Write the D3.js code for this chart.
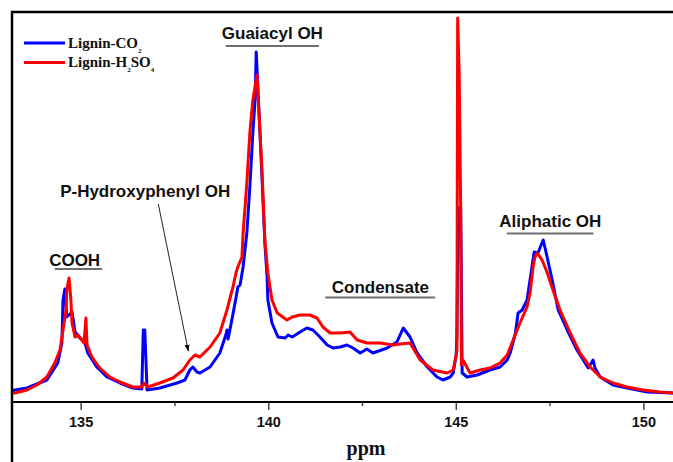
<!DOCTYPE html>
<html>
<head>
<meta charset="utf-8">
<script src="https://cdn.jsdelivr.net/npm/d3@7"></script>
<style>
  html, body { margin: 0; padding: 0; background: #fff; }
  svg { display: block; }
</style>
</head>
<body>
<svg id="chart" width="673" height="462"></svg>
<script>
// ---- Data (ppm, intensity in arbitrary units) ----
const seriesNames = ["Lignin-CO2", "Lignin-H2SO4"];
const xTicksMajor = [135, 140, 145, 150];
const xTicksMinor = [137.5, 142.5, 147.5];

const ligninCO2 = [
  [133.17, 4], [133.25, 5], [133.57, 7], [134.10, 15], [134.39, 32], [134.50, 52],
  [134.53, 95], [134.58, 106], [134.63, 78], [134.77, 83], [134.85, 63], [134.98, 57],
  [135.11, 53], [135.19, 42], [135.43, 28], [135.70, 18], [136.05, 12], [136.39, 7],
  [136.63, 6], [136.67, 65], [136.71, 65], [136.77, 5], [137.11, 7], [137.57, 12],
  [137.78, 15], [137.91, 25], [137.99, 28], [138.10, 23], [138.18, 22], [138.45, 28],
  [138.71, 42], [138.87, 60], [138.90, 65], [138.93, 56], [139.03, 75], [139.14, 97],
  [139.19, 108], [139.25, 110], [139.33, 128], [139.43, 162], [139.51, 208], [139.59, 262],
  [139.65, 295], [139.68, 343], [139.78, 262], [139.86, 195], [139.91, 152], [139.97, 118],
  [139.99, 95], [140.10, 72], [140.26, 58], [140.45, 57], [140.53, 60], [140.64, 58],
  [140.85, 63], [141.03, 67], [141.19, 65], [141.38, 58], [141.57, 50], [141.73, 47],
  [141.92, 48], [142.10, 50], [142.26, 47], [142.45, 42], [142.63, 46], [142.79, 42],
  [143.17, 47], [143.43, 53], [143.60, 67], [143.78, 58], [143.97, 42], [144.24, 28],
  [144.50, 18], [144.66, 15], [144.85, 18], [144.93, 22], [145.01, 40], [145.03, 60],
  [145.06, 187], [145.13, 187], [145.17, 22], [145.30, 18], [145.57, 20], [145.91, 25],
  [146.18, 28], [146.37, 35], [146.45, 42], [146.59, 62], [146.66, 82], [146.77, 85],
  [146.90, 95], [147.03, 128], [147.09, 143], [147.19, 142], [147.33, 155], [147.41, 142],
  [147.57, 115], [147.73, 85], [147.97, 65], [148.23, 45], [148.53, 27], [148.66, 35],
  [148.71, 27], [148.85, 18], [149.19, 10], [149.57, 7], [150.10, 3], [150.79, 2]
];

const ligninH2SO4 = [
  [133.17, 2], [133.25, 2], [133.57, 5], [133.83, 10], [134.10, 18], [134.31, 32],
  [134.45, 45], [134.53, 65], [134.61, 85], [134.63, 105], [134.69, 117], [134.74, 95],
  [134.77, 72], [134.85, 58], [134.93, 60], [135.03, 55], [135.09, 52], [135.14, 77],
  [135.17, 50], [135.30, 38], [135.51, 27], [135.78, 18], [136.05, 13], [136.39, 8],
  [136.63, 8], [136.69, 12], [136.79, 8], [137.11, 12], [137.46, 17], [137.73, 25],
  [137.91, 35], [138.05, 40], [138.18, 38], [138.45, 48], [138.71, 62], [138.90, 85],
  [139.06, 108], [139.14, 122], [139.19, 128], [139.30, 138], [139.33, 162], [139.43, 212],
  [139.51, 262], [139.59, 295], [139.70, 320], [139.83, 228], [139.91, 155], [139.99, 122],
  [140.10, 95], [140.24, 82], [140.50, 75], [140.64, 78], [140.85, 80], [141.11, 80],
  [141.30, 77], [141.46, 68], [141.65, 62], [141.92, 62], [142.18, 63], [142.37, 55],
  [142.63, 52], [142.98, 52], [143.33, 50], [143.51, 51], [143.78, 52], [144.05, 35],
  [144.39, 25], [144.77, 22], [144.93, 25], [145.01, 40], [145.03, 45], [145.05, 377],
  [145.09, 322], [145.13, 188], [145.15, 30], [145.19, 35], [145.38, 22], [145.65, 25],
  [145.91, 27], [146.18, 32], [146.37, 40], [146.53, 55], [146.71, 72], [146.90, 88],
  [146.98, 102], [147.06, 128], [147.11, 138], [147.17, 142], [147.30, 135], [147.43, 123],
  [147.59, 105], [147.78, 85], [148.05, 62], [148.31, 42], [148.58, 28], [148.85, 18],
  [149.19, 12], [149.57, 8], [149.99, 5], [150.45, 3], [150.79, 2]
];

const annotations = [
  { text: "COOH", ppm: 134.84, y: 266, ulFrom: 134.31, ulTo: 135.57, ulY: 269 },
  { text: "Guaiacyl OH", ppm: 140.11, y: 39, ulFrom: 138.87, ulTo: 141.35, ulY: 46 },
  { text: "Condensate", ppm: 142.99, y: 292.5, ulFrom: 141.52, ulTo: 144.45, ulY: 297.5 },
  { text: "Aliphatic OH", ppm: 147.52, y: 227, ulFrom: 146.36, ulTo: 148.67, ulY: 233.5 },
  { text: "P-Hydroxyphenyl OH", ppm: 136.72, y: 197 }
];

// ---- Layout ----
const svg = d3.select("#chart");
const plotLeft = 12, plotRight = 673, plotTop = 12, plotBottom = 402;

const x = d3.scaleLinear().domain([133.17, 150.79]).range([plotLeft, plotRight]);
const y = d3.scaleLinear().domain([0, 383]).range([395, 12]);

const defs = svg.append("defs");
defs.append("clipPath").attr("id", "plotclip")
  .append("rect").attr("x", plotLeft).attr("y", plotTop + 1)
  .attr("width", plotRight - plotLeft).attr("height", plotBottom - plotTop - 1);

defs.append("marker")
  .attr("id", "arrowhead").attr("viewBox", "0 0 10 10").attr("refX", 9).attr("refY", 5)
  .attr("markerWidth", 7).attr("markerHeight", 7).attr("orient", "auto")
  .append("path").attr("d", "M0,1.5 L10,5 L0,8.5 Z").attr("fill", "#000");

const line = d3.line().x(d => x(d[0])).y(d => y(d[1]));

const g = svg.append("g").attr("clip-path", "url(#plotclip)");
g.append("path").datum(ligninCO2).attr("d", line)
  .attr("fill", "none").attr("stroke", "#0000ff").attr("stroke-width", 3).attr("stroke-linejoin", "round");
g.append("path").datum(ligninH2SO4).attr("d", line)
  .attr("fill", "none").attr("stroke", "#ff0000").attr("stroke-width", 3).attr("stroke-linejoin", "round");

// ---- Frame ----
svg.append("line").attr("x1", plotLeft).attr("x2", plotRight).attr("y1", plotTop).attr("y2", plotTop)
  .attr("stroke", "#000").attr("stroke-width", 2.5);
svg.append("line").attr("x1", plotLeft).attr("x2", plotLeft).attr("y1", plotTop - 1.2).attr("y2", 462)
  .attr("stroke", "#000").attr("stroke-width", 2.5);

// ---- X axis ----
const axisMajor = d3.axisBottom(x).tickValues(xTicksMajor).tickSize(8).tickFormat(d3.format("d"));
const axisMinor = d3.axisBottom(x).tickValues(xTicksMinor).tickSize(4).tickFormat("");

const gMinor = svg.append("g").attr("transform", `translate(0,${plotBottom})`).call(axisMinor);
const gMajor = svg.append("g").attr("transform", `translate(0,${plotBottom})`).call(axisMajor);
[gMinor, gMajor].forEach(ga => {
  ga.select(".domain").remove();
  ga.selectAll(".tick line").attr("stroke", "#444").attr("stroke-width", 1.5);
});
gMajor.selectAll(".tick text")
  .attr("dy", null).attr("y", 24.7)
  .attr("fill", "#111")
  .style("font-family", "Arial, 'Liberation Sans', sans-serif")
  .style("font-weight", "bold").style("font-size", "14.5px");

svg.append("line").attr("x1", plotLeft).attr("x2", plotRight).attr("y1", plotBottom).attr("y2", plotBottom)
  .attr("stroke", "#000").attr("stroke-width", 2);

svg.append("text").attr("x", 366).attr("y", 455).attr("text-anchor", "middle")
  .style("font-family", "'Times New Roman', 'Liberation Serif', serif")
  .style("font-weight", "bold").style("font-size", "20px").attr("fill", "#111").text("ppm");

// ---- Legend ----
const legend = svg.append("g");
const legendItems = [
  { color: "#0000ff", base: "Lignin-CO", parts: [["2", "sub"]], y: 43 },
  { color: "#ff0000", base: "Lignin-H", parts: [["2", "sub"], ["SO", "n"], ["4", "sub"]], y: 62.5 }
];
legendItems.forEach(it => {
  legend.append("line").attr("x1", 24).attr("x2", 65).attr("y1", it.y).attr("y2", it.y)
    .attr("stroke", it.color).attr("stroke-width", 3);
  const t = legend.append("text").attr("x", 68).attr("y", it.y + 4.5)
    .style("font-family", "'Times New Roman', 'Liberation Serif', serif")
    .style("font-weight", "bold").style("font-size", "15px").attr("fill", "#111");
  t.append("tspan").text(it.base);
  let shifted = false;
  it.parts.forEach(p => {
    if (p[1] === "sub") {
      t.append("tspan").attr("dy", 5).style("font-size", "7px").text(p[0]);
      shifted = true;
    } else {
      t.append("tspan").attr("dy", shifted ? -5 : 0).text(p[0]);
      shifted = false;
    }
  });
});

// ---- Annotations ----
annotations.forEach(a => {
  svg.append("text").attr("x", x(a.ppm)).attr("y", a.y).attr("text-anchor", "middle")
    .style("font-family", "Arial, 'Liberation Sans', sans-serif")
    .style("font-weight", "bold").style("font-size", "17px").attr("fill", "#111").text(a.text);
  if (a.ulFrom !== undefined) {
    svg.append("line").attr("x1", x(a.ulFrom)).attr("x2", x(a.ulTo)).attr("y1", a.ulY).attr("y2", a.ulY)
      .attr("stroke", "#6e6e6e").attr("stroke-width", 2);
  }
});

// arrow from P-Hydroxyphenyl label to its shoulder on the red curve
svg.append("line")
  .attr("x1", x(137.07)).attr("y1", 204)
  .attr("x2", x(137.87)).attr("y2", y(44))
  .attr("stroke", "#222").attr("stroke-width", 1)
  .attr("marker-end", "url(#arrowhead)");
</script>
</body>
</html>
